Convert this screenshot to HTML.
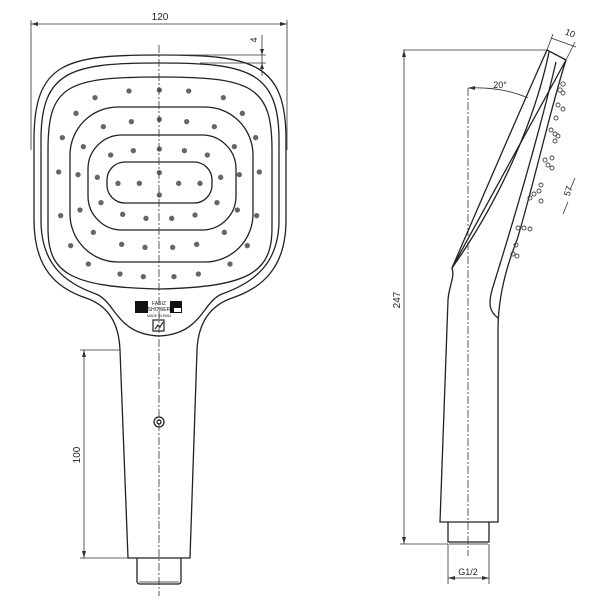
<!DOCTYPE html>
<html><head><meta charset="utf-8"><style>
html,body{margin:0;padding:0;background:#fff;width:601px;height:601px;overflow:hidden}
svg{display:block}
text{font-family:"Liberation Sans",sans-serif;fill:#222}
</style></head><body>
<svg width="601" height="601" viewBox="0 0 601 601" xmlns="http://www.w3.org/2000/svg">
<g fill="none" stroke="#222" stroke-width="1.3">
<!-- front view head -->
<path d="M159,55 C252,55 286,62 286,140 L286,220 C286,268 262,288 232,298 C206,307 198,328 197,350 L190,558 L128,558 L120,350 C119,328 112,307 86,298 C56,288 34,268 34,220 L34,140 C34,62 66,55 159,55 Z"/>
<path d="M159,63 C246,63 279,70 279,140 L279,220 C279,262 256,282 222,294 C202,302 202,334 159,336 C116,334 116,302 96,294 C62,282 41,262 41,220 L41,140 C41,70 72,63 159,63 Z"/>
<path d="M159,77 C252,77 272,86 272,150 L272,228 C272,272 250,287 159,289 C68,287 48,272 48,228 L48,150 C48,86 66,77 159,77 Z"/>
<rect x="70" y="107" width="183" height="155" rx="48"/>
<rect x="88" y="135" width="148" height="95" rx="34"/>
<rect x="107" y="162" width="105" height="41" rx="18"/>
<!-- connector front -->
<path d="M137,558 L137,581 Q137,584 140,584 L178,584 Q181,584 181,581 L181,558"/>
<path d="M139,582 L179,582" stroke-width="0.8"/>
<!-- button -->
<circle cx="159" cy="422" r="5"/>
<circle cx="159" cy="422" r="2"/>
</g>
<!-- dots -->
<g fill="#666" transform="scale(0.33333)">
<circle cx="285" cy="293" r="8"/><circle cx="387" cy="273" r="8"/><circle cx="478" cy="270" r="8"/><circle cx="566" cy="273" r="8"/><circle cx="670" cy="293" r="8"/>
<circle cx="228" cy="340" r="8"/><circle cx="727" cy="340" r="8"/>
<circle cx="310" cy="380" r="8"/><circle cx="394" cy="365" r="8"/><circle cx="478" cy="358" r="8"/><circle cx="560" cy="365" r="8"/><circle cx="643" cy="380" r="8"/>
<circle cx="187" cy="413" r="8"/><circle cx="767" cy="413" r="8"/>
<circle cx="250" cy="440" r="8"/><circle cx="703" cy="440" r="8"/>
<circle cx="332" cy="465" r="8"/><circle cx="400" cy="452" r="8"/><circle cx="478" cy="447" r="8"/><circle cx="553" cy="452" r="8"/><circle cx="622" cy="465" r="8"/>
<circle cx="478" cy="518" r="8"/>
<circle cx="176" cy="516" r="8"/><circle cx="234" cy="524" r="8"/><circle cx="292" cy="532" r="8"/><circle cx="354" cy="550" r="8"/><circle cx="418" cy="550" r="8"/><circle cx="536" cy="550" r="8"/><circle cx="600" cy="550" r="8"/><circle cx="662" cy="532" r="8"/><circle cx="718" cy="524" r="8"/><circle cx="778" cy="516" r="8"/>
<circle cx="478" cy="585" r="8"/>
<circle cx="303" cy="608" r="8"/><circle cx="651" cy="608" r="8"/>
<circle cx="182" cy="647" r="8"/><circle cx="240" cy="630" r="8"/><circle cx="712" cy="630" r="8"/><circle cx="770" cy="647" r="8"/>
<circle cx="368" cy="643" r="8"/><circle cx="438" cy="655" r="8"/><circle cx="515" cy="655" r="8"/><circle cx="585" cy="645" r="8"/>
<circle cx="280" cy="697" r="8"/><circle cx="673" cy="697" r="8"/>
<circle cx="212" cy="737" r="8"/><circle cx="742" cy="737" r="8"/>
<circle cx="365" cy="733" r="8"/><circle cx="435" cy="742" r="8"/><circle cx="518" cy="742" r="8"/><circle cx="590" cy="733" r="8"/>
<circle cx="265" cy="792" r="8"/><circle cx="690" cy="792" r="8"/>
<circle cx="360" cy="822" r="8"/><circle cx="430" cy="830" r="8"/><circle cx="522" cy="830" r="8"/><circle cx="595" cy="822" r="8"/>
</g>
<!-- logo -->
<rect x="135" y="301" width="13" height="12" fill="#111"/>
<rect x="170" y="301" width="12" height="12" fill="#111"/>
<rect x="174" y="308" width="7" height="4" fill="#fff"/>
<text x="159" y="305" font-size="5" text-anchor="middle">FABIZ</text>
<text x="159" y="311" font-size="5" text-anchor="middle">SHOWER</text>
<text x="159" y="317" font-size="3.5" text-anchor="middle">MADE IN IRAN</text>
<rect x="153" y="320" width="11" height="11" fill="none" stroke="#222" stroke-width="1.2"/>
<path d="M155,329 L158,325 L160,327 L163,322" stroke="#222" fill="none" stroke-width="1.2"/>
<!-- centerlines -->
<g stroke="#333" stroke-width="0.8" stroke-dasharray="8,2,2,2" fill="none">
<path d="M159,45 L159,596"/>
<path d="M468,88 L468,556"/>
</g>
<!-- front dims -->
<g stroke="#333" stroke-width="0.8" fill="none">
<path d="M31,24 L287,24 M31,20 L31,150 M287,20 L287,150"/>
<path d="M159,55 L266,55 M200,63 L266,63 M262,35 L262,76"/>
<path d="M120,350 L80,350 M128,558 L80,558 M84,350 L84,558"/>
</g>
<g fill="#333">
<path d="M31,24 L38,22 L38,26 Z M287,24 L280,22 L280,26 Z"/>
<path d="M262,55 L260,49 L264,49 Z M262,63 L260,69 L264,69 Z"/>
<path d="M84,350 L82,357 L86,357 Z M84,558 L82,551 L86,551 Z"/>
</g>
<text x="160" y="20" font-size="10" text-anchor="middle">120</text>
<text x="0" y="0" font-size="9" transform="translate(257,40) rotate(-90)" text-anchor="middle">4</text>
<text x="0" y="0" font-size="10" transform="translate(80,455) rotate(-90)" text-anchor="middle">100</text>
<!-- side view -->
<g fill="none" stroke="#222" stroke-width="1.3">
<path d="M547,50 C520,110 490,180 452,268"/>
<path d="M549,52 C535,120 500,200 452,268"/>
<path d="M452,268 C455,278 449,285 448,300 L440,522 L498,522 L498,330 C498,300 505,270 517,240 C535,180 550,110 566,60 Z"/>
<path d="M556,62 C540,130 520,200 492,290 C488,305 490,312 498,318"/>
<path d="M547,50 L566,60"/>
<path d="M448,522 L448,542 L489,542 L489,522"/>
<path d="M449,544 L488,544" stroke-width="0.8"/>
</g>
<g fill="none" stroke="#444" stroke-width="0.9">
<circle cx="563" cy="84" r="2.2"/><circle cx="560" cy="90" r="2.2"/><circle cx="563" cy="93" r="2"/>
<circle cx="558" cy="105" r="2"/><circle cx="563" cy="109" r="2"/><circle cx="556" cy="118" r="2"/>
<circle cx="551" cy="130" r="2"/><circle cx="555" cy="134" r="2"/><circle cx="558" cy="136" r="2"/><circle cx="555" cy="141" r="2"/>
<circle cx="545" cy="160" r="2"/><circle cx="548" cy="165" r="2"/><circle cx="552" cy="168" r="2"/><circle cx="552" cy="158" r="2"/>
<circle cx="530" cy="198" r="2"/><circle cx="534" cy="194" r="2"/><circle cx="539" cy="191" r="2"/><circle cx="541" cy="185" r="2"/><circle cx="541" cy="201" r="2"/>
<circle cx="518" cy="228" r="2"/><circle cx="524" cy="228" r="2"/><circle cx="530" cy="229" r="2"/>
<circle cx="516" cy="245" r="2"/><circle cx="513" cy="254" r="2"/><circle cx="517" cy="256" r="2"/>
</g>
<g stroke="#333" stroke-width="0.8" fill="none">
<path d="M547,50 L403,50 M404,50 L404,544 M448,544 L400,544"/>
<path d="M468,88 C490,87 510,90 528,98"/>
<path d="M547,50 L553,34 M566,60 L575,42 M551,38 L576,47"/>
<path d="M448,544 L448,584 M489,544 L489,584 M448,578 L489,578"/>
<path d="M568,202 L563,214 M575,178 L570,190"/>
</g>
<g fill="#333">
<path d="M404,50 L402,57 L406,57 Z M404,544 L402,537 L406,537 Z"/>
<path d="M468,88 L475,86 L475,90 Z"/>
<path d="M448,578 L455,576 L455,580 Z M489,578 L482,576 L482,580 Z"/>
</g>
<text x="0" y="0" font-size="10" transform="translate(400,300) rotate(-90)" text-anchor="middle">247</text>
<text x="500" y="88" font-size="9" text-anchor="middle">20°</text>
<text x="0" y="0" font-size="9" transform="translate(569,36) rotate(22)" text-anchor="middle">10</text>
<text x="0" y="0" font-size="9" transform="translate(571,192) rotate(-72)" text-anchor="middle">57</text>
<text x="468" y="575" font-size="9" text-anchor="middle">G1/2</text>
</svg>
</body></html>
